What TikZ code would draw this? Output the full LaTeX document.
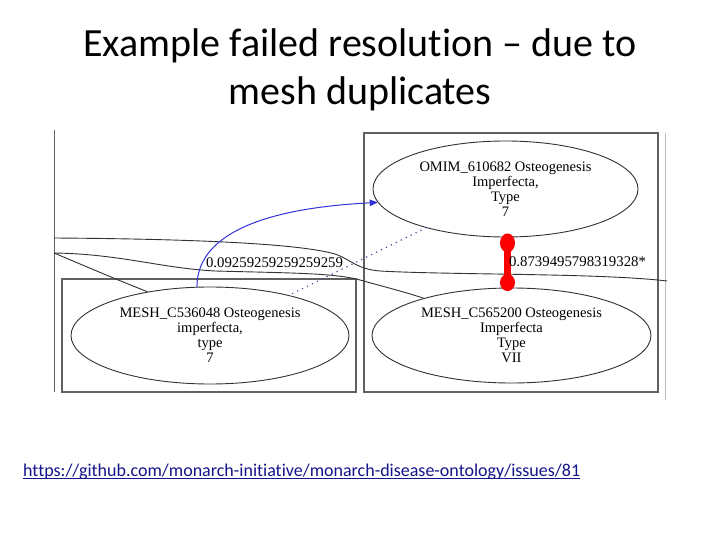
\documentclass[tikz,border=0pt]{standalone}
\usepackage{fontspec}
\setmainfont{Liberation Serif}
\newfontfamily\calibri[Ligatures=NoCommon]{Carlito}
\usetikzlibrary{arrows.meta,shapes.geometric,calc}
\definecolor{boxgray}{RGB}{96,96,96}
\definecolor{lightframe}{RGB}{190,190,190}
\definecolor{curvegray}{RGB}{50,50,50}
\definecolor{edgeblue}{RGB}{50,50,215}
\definecolor{dotblue}{RGB}{70,80,165}
\definecolor{linkblue}{RGB}{20,20,140}
\definecolor{edgered}{RGB}{250,0,0}
\begin{document}
\begin{tikzpicture}[x=1pt,y=-1pt,
  cluster/.style={draw=boxgray, line width=1.3pt},
  concept/.style={ellipse, draw=curvegray, line width=0.9pt, inner sep=0pt,
    align=center, font=\fontsize{14.5}{15}\selectfont},
  score/.style={inner sep=0pt, font=\fontsize{14.8}{15}\selectfont},
  faint/.style={draw=curvegray, line width=0.9pt},
  titletext/.style={font=\calibri\fontsize{40}{48}\selectfont, inner sep=0pt, anchor=base}]
\useasboundingbox[fill=white] (0,0) rectangle (720,540);

% title
\node[titletext] (title1) at (360,57) {Example failed resolution – due to};
\node[titletext] (title2) at (360,105) {mesh duplicates};

% screenshot frame lines
\draw[draw=boxgray, line width=1pt] (54,130) -- (54,392);
\draw[draw=lightframe, line width=1pt] (665,133) -- (665,400);

% clusters
\draw[cluster] (364,133) rectangle (658,392);
\draw[cluster] (62,279) rectangle (356,392);

% nodes
\node[concept, minimum width=265, minimum height=96] (omim) at (505.5,189)
  {OMIM\_610682 Osteogenesis\\Imperfecta,\\Type\\7};
\node[concept, minimum width=279, minimum height=95] (mesh2) at (511.5,335.5)
  {MESH\_C565200 Osteogenesis\\Imperfecta\\Type\\VII};
\node[concept, minimum width=278, minimum height=97] (mesh1) at (210,335.5)
  {MESH\_C536048 Osteogenesis\\imperfecta,\\type\\7};

% free ends of edges coming from outside the view
\coordinate (l1) at (54,238);
\coordinate (l2) at (54,253);
\coordinate (r1) at (667,281);

% grey edges
\draw[faint] (l1) .. controls (200,239) and (300,244) .. (335,254)
  .. controls (352,260) and (356,269) .. (380,271)
  .. controls (450,275) and (600,273) .. (r1);
\draw[faint] (l2) .. controls (120,254) and (160,268) .. (215,271)
  .. controls (290,273) and (335,273) .. (360,280)
  .. controls (385,287) and (405,292) .. (mesh2.157);
\draw[faint] (l2) .. controls (85,266) and (115,279) .. (mesh1.145);

% blue edge
\draw[draw=edgeblue, line width=1pt, -{Triangle[length=8pt,width=6.5pt]}]
  (mesh1.105) .. controls (197,240) and (250,209) .. (omim.186);
\node[score] (lab1) at (274.5,263) {0.09259259259259259};

% dotted edge
\draw[draw=dotblue, line width=1.7pt, line cap=round, dash pattern=on 0pt off 5.5pt]
  (omim.206) -- (mesh1.27);

% red edge
\coordinate (redtop) at ($(omim.south)+(2,0)$);
\coordinate (redbot) at ($(mesh2.north)+(-4,0)$);
\draw[draw=edgered, line width=7pt] (redtop) -- (redbot);
\fill[edgered] ($(redtop)+(0,5.5)$) ellipse [x radius=7.5, y radius=9.5];
\fill[edgered] ($(redbot)+(0,-5)$) ellipse [x radius=7.5, y radius=8.5];
\node[score] (lab2) at (577.5,262) {0.8739495798319328*};

% link
\node[font=\calibri\fontsize{18}{21}\selectfont, text=linkblue, inner sep=0pt, anchor=base west]
  (url) at (23,476) {https://github.com/monarch-initiative/monarch-disease-ontology/issues/81};
\draw[draw=linkblue, line width=1pt] ($(url.base west)+(0,2.5)$) -- ($(url.base east)+(0,2.5)$);
\end{tikzpicture}
\end{document}
